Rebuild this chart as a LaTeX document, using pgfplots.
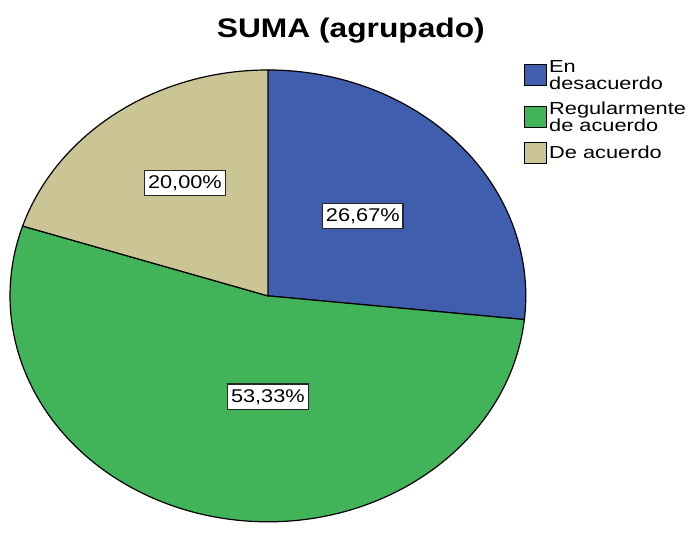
\documentclass[border=0pt]{standalone}
\usepackage{fontspec}
\setmainfont{Liberation Sans}
\newfontfamily\wide[FakeStretch=1.18]{Liberation Sans}
\newfontfamily\wideL[FakeStretch=1.25]{Liberation Sans}
\usepackage{pgfplots}
\usepackage{pgfplotstable}
\pgfplotsset{compat=1.18}

\definecolor{cblue}{HTML}{3F5EAD}
\definecolor{cgreen}{HTML}{41B45A}
\definecolor{ctan}{HTML}{CBC596}

% porcentajes de cada grupo
\pgfplotstableread{
grupo pct
1 26.67
2 53.33
3 20.00
}\piedata
\pgfplotstablegetelem{0}{pct}\of\piedata \let\pA\pgfplotsretval
\pgfplotstablegetelem{1}{pct}\of\piedata \let\pB\pgfplotsretval
\pgfplotstablegetelem{2}{pct}\of\piedata \let\pC\pgfplotsretval

\pgfmathsetmacro{\aA}{90-3.6*\pA}
\pgfmathsetmacro{\aB}{\aA-3.6*\pB}
\pgfmathsetmacro{\aC}{\aB-3.6*\pC}

\begin{document}
\begin{tikzpicture}
\begin{axis}[
    width=688bp, height=524bp, scale only axis,
    xmin=0, xmax=688, ymin=0, ymax=524,
    hide axis, clip=false,
    legend style={at={(axis cs:524,466)}, anchor=north west,
        draw=none, fill=none, inner sep=0pt, row sep=7bp,
        font=\wideL\fontsize{17.5}{17}\selectfont,
        nodes={inner sep=2bp}, cells={align=left}},
    legend cell align=left,
    legend image code/.code={\draw[#1,line width=1.2bp] (0bp,-10.5bp) rectangle (22bp,10.5bp);},
]
\path (axis cs:0,0) rectangle (axis cs:688,524);
\addlegendimage{fill=cblue, draw=black}
\addlegendentry{En\\desacuerdo}
\addlegendimage{fill=cgreen, draw=black}
\addlegendentry{Regularmente\\de acuerdo}
\addlegendimage{fill=ctan, draw=black}
\addlegendentry{De acuerdo}

\filldraw[fill=cblue, draw=black, line width=1.2bp] (axis cs:268,228) -- ++(90:258bp and 226bp)
    arc[start angle=90, end angle=\aA, x radius=258bp, y radius=226bp] -- cycle;
\filldraw[fill=cgreen, draw=black, line width=1.2bp] (axis cs:268,228) -- ++(\aA:258bp and 226bp)
    arc[start angle=\aA, end angle=\aB, x radius=258bp, y radius=226bp] -- cycle;
\filldraw[fill=ctan, draw=black, line width=1.2bp] (axis cs:268,228) -- ++(\aB:258bp and 226bp)
    arc[start angle=\aB, end angle=\aC, x radius=258bp, y radius=226bp] -- cycle;

\tikzset{lbl/.style={fill=white, draw=black!85, line width=1.5bp, inner xsep=3.5bp, inner ysep=5bp,
    font=\wide\fontsize{18.5}{18.5}\selectfont}}
\node[lbl] at (axis cs:363,308) {26,67\%};
\node[lbl] at (axis cs:268,127) {53,33\%};
\node[lbl] at (axis cs:185,341) {20,00\%};

\node[font=\wide\bfseries\fontsize{27}{27}\selectfont] at (axis cs:351,493) {SUMA (agrupado)};
\end{axis}
\end{tikzpicture}
\end{document}
